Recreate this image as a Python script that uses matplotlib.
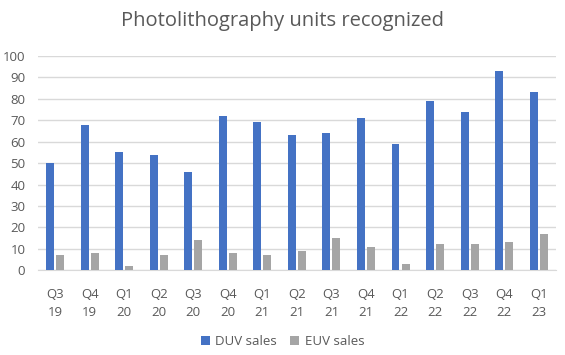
import numpy as np
import matplotlib
matplotlib.use("Agg")
import matplotlib.pyplot as plt

# Data
quarters = ["Q3\n19", "Q4\n19", "Q1\n20", "Q2\n20", "Q3\n20", "Q4\n20", "Q1\n21", "Q2\n21",
            "Q3\n21", "Q4\n21", "Q1\n22", "Q2\n22", "Q3\n22", "Q4\n22", "Q1\n23"]
duv_sales = [50, 68, 55, 54, 46, 72, 69, 63, 64, 71, 59, 79, 74, 93, 83]
euv_sales = [7, 8, 2, 7, 14, 8, 7, 9, 15, 11, 3, 12, 12, 13, 17]

plt.rcParams["font.family"] = ["Open Sans", "DejaVu Sans"]
text_grey = "#595959"

fig = plt.figure(figsize=(5.65, 3.55), dpi=100)
ax = fig.add_axes([0.067, 0.239, 0.917, 0.603])

x = np.arange(len(quarters))
w = 0.23
ax.bar(x - 0.145, duv_sales, width=w, color="#4472C4", label="DUV sales", zorder=3)
ax.bar(x + 0.145, euv_sales, width=w, color="#A5A5A5", label="EUV sales", zorder=3)

ax.set_xlim(-0.5, len(quarters) - 0.5)
ax.set_ylim(0, 100)
ax.set_yticks(range(0, 101, 10))
ax.yaxis.grid(True, color="#D9D9D9", linewidth=1, zorder=0)
ax.set_xticks(x)
ax.set_xticklabels(quarters, linespacing=1.45)
ax.tick_params(axis="both", length=0, colors=text_grey, labelsize=9.5)
ax.tick_params(axis="x", pad=13)
ax.tick_params(axis="y", pad=9)
for side in ["top", "right", "left"]:
    ax.spines[side].set_visible(False)
ax.spines["bottom"].set_color("#D9D9D9")

fig.text(0.5, 0.94, "Photolithography units recognized", ha="center", va="center",
         fontsize=14.5, color=text_grey)
fig.legend(loc="center", bbox_to_anchor=(0.5, 0.038), ncol=2, frameon=False,
           fontsize=9.5, labelcolor=text_grey, handlelength=0.7, handleheight=0.7,
           handletextpad=0.4, columnspacing=1.0)

fig.savefig("out.png", dpi=100)
